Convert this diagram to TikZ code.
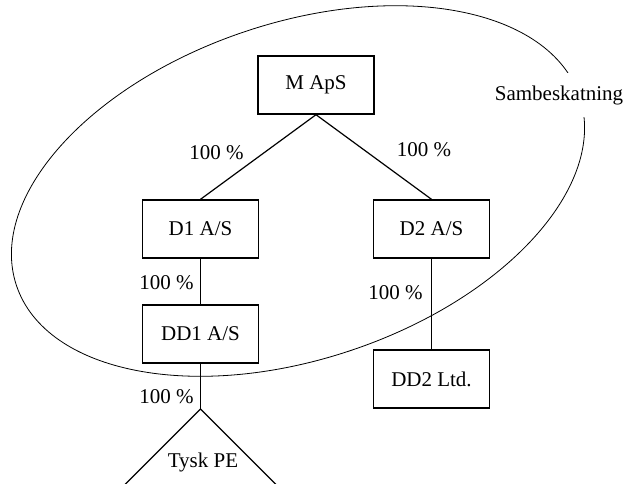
\documentclass[tikz,border=0pt]{standalone}
\usepackage{fontspec}
\setmainfont{Liberation Serif}
\begin{document}
\begin{tikzpicture}[x=1pt,y=1pt,
  every node/.style={font=\fontsize{21}{25}\selectfont},
  company/.style={draw, line width=1.4pt, minimum width=116pt, minimum height=58pt, inner sep=0pt},
  owner/.style={line width=1.2pt},
  pct/.style={inner sep=0pt}]
  \useasboundingbox (0,0) rectangle (627,-483);
  \clip (0,0) rectangle (627,-483);

  % tax group (sambeskatning) boundary
  \draw[line width=0.8pt, rotate around={18.6:(298,-191)}]
    (298,-191) ellipse [x radius=297, y radius=168];
  \node[fill=white, inner xsep=2pt, inner ysep=12pt] (group) at (559,-95) {Sambeskatning};

  % companies
  \node[company] (m)   at (316,-85)    {M ApS};
  \node[company] (d1)  at (200.5,-229) {D1 A/S};
  \node[company] (d2)  at (431.5,-229) {D2 A/S};
  \node[company] (dd1) at (200.5,-334) {DD1 A/S};
  \node[company] (dd2) at (431.5,-379) {DD2 Ltd.};

  % permanent establishment (triangle, cut by the page edge)
  \coordinate (pe) at (200.5,-409);
  \coordinate (peL) at (115.5,-494);
  \coordinate (peR) at (285.5,-494);
  \draw[owner] (peL) -- (pe) -- (peR);
  \node (tysk) at (203,-462) {Tysk PE};

  % ownership lines
  \draw[owner] (m.south) -- (d1.north);
  \draw[owner] (m.south) -- (d2.north);
  \draw[owner] (d1.south) -- (dd1.north);
  \draw[owner] (d2.south) -- (dd2.north);
  \draw[owner] (dd1.south) -- (pe);

  % ownership shares
  \node[pct] (p1) at (216.5,-153) {100 \%};
  \node[pct] (p2) at (424,-150)   {100 \%};
  \node[pct] (p3) at (166.5,-283) {100 \%};
  \node[pct] (p4) at (395.5,-293) {100 \%};
  \node[pct] (p5) at (166.5,-397) {100 \%};
\end{tikzpicture}
\end{document}
